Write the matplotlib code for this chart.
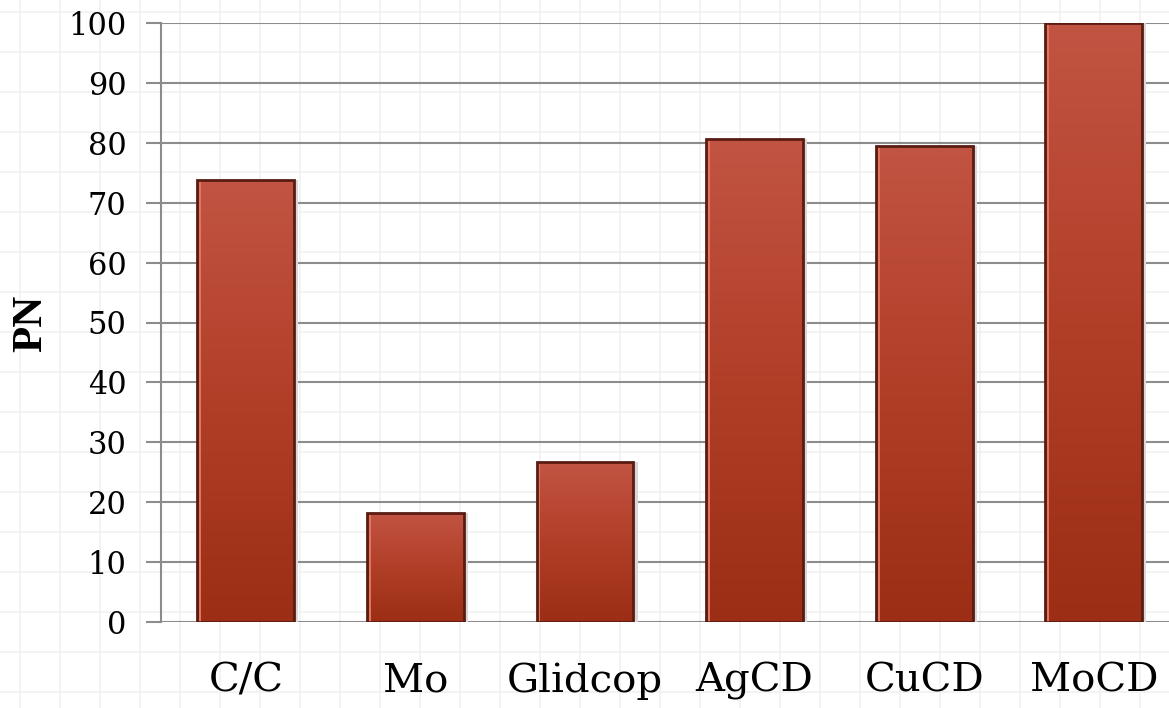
import numpy as np
import matplotlib
matplotlib.use("Agg")
import matplotlib.pyplot as plt
from matplotlib.colors import LinearSegmentedColormap

categories = ["C/C", "Mo", "Glidcop", "AgCD", "CuCD", "MoCD"]
pn_values = [73.8, 18.2, 26.7, 80.6, 79.5, 100.0]
y_ticks = [0, 10, 20, 30, 40, 50, 60, 70, 80, 90, 100]

W, H = 1169, 708
fig = plt.figure(figsize=(W / 100, H / 100), dpi=100)
fig.patch.set_facecolor("white")

# faint graph-paper background
for gx in range(20, W, 40):
    fig.add_artist(plt.Line2D([gx / W, gx / W], [0, 1], color="#f1f1f1", lw=1.2, zorder=0))
for gy in range(12, H, 40):
    fig.add_artist(plt.Line2D([0, 1], [1 - gy / H, 1 - gy / H], color="#f1f1f1", lw=1.2, zorder=0))

left, right, top, bottom = 161, 1169, 23, 622
ax = fig.add_axes([left / W, 1 - bottom / H, (right - left) / W, (bottom - top) / H])
ax.patch.set_alpha(0)

step = 169.6
font = "DejaVu Serif"
ax.set_yticks(y_ticks)
ax.set_yticklabels([str(t) for t in y_ticks], fontsize=22, family=font)
ax.set_xticks(range(len(categories)))
ax.set_xticklabels(categories, fontsize=29, family=font)
ax.tick_params(axis="y", length=11, width=1.5, color="#8c8c8c", pad=14)
ax.tick_params(axis="x", length=0, pad=29)
ax.yaxis.grid(True, color="#8c8c8c", lw=1.5)
ax.set_axisbelow(True)
for s in ["top", "right", "bottom"]:
    ax.spines[s].set_visible(False)
ax.spines["left"].set_color("#8c8c8c")
ax.spines["left"].set_linewidth(1.5)
fig.text(31 / W, 1 - 323 / H, "PN", fontsize=31, family="Liberation Serif",
         fontweight="bold", rotation=90, ha="center", va="center")

cmap = LinearSegmentedColormap.from_list("bar", ["#9b2e14", "#b13f28", "#c25443"])
grad = np.linspace(0, 1, 256).reshape(-1, 1)
bar_w = 0.57
bars = ax.bar(range(len(categories)), pn_values, width=bar_w, color="none",
              edgecolor="#5a1c12", linewidth=2, zorder=3)
for b in bars:
    x0, w, h = b.get_x(), b.get_width(), b.get_height()
    im = ax.imshow(grad, cmap=cmap, origin="lower", aspect="auto",
                   extent=[x0, x0 + w, 0, h], zorder=2)
    im.set_clip_path(b)
    ax.add_patch(plt.Rectangle((x0 + 0.01, 0), 0.012, h, color="#e07560", lw=0, zorder=2.5))
    ax.add_patch(plt.Rectangle((x0 + w + 0.005, 0), 0.02, h, color="#d8d8d8", lw=0, zorder=1.5))

ax.set_xlim(-0.5, -0.5 + (right - left) / step)
ax.set_ylim(0, 100)

fig.savefig("out.png", dpi=100)
